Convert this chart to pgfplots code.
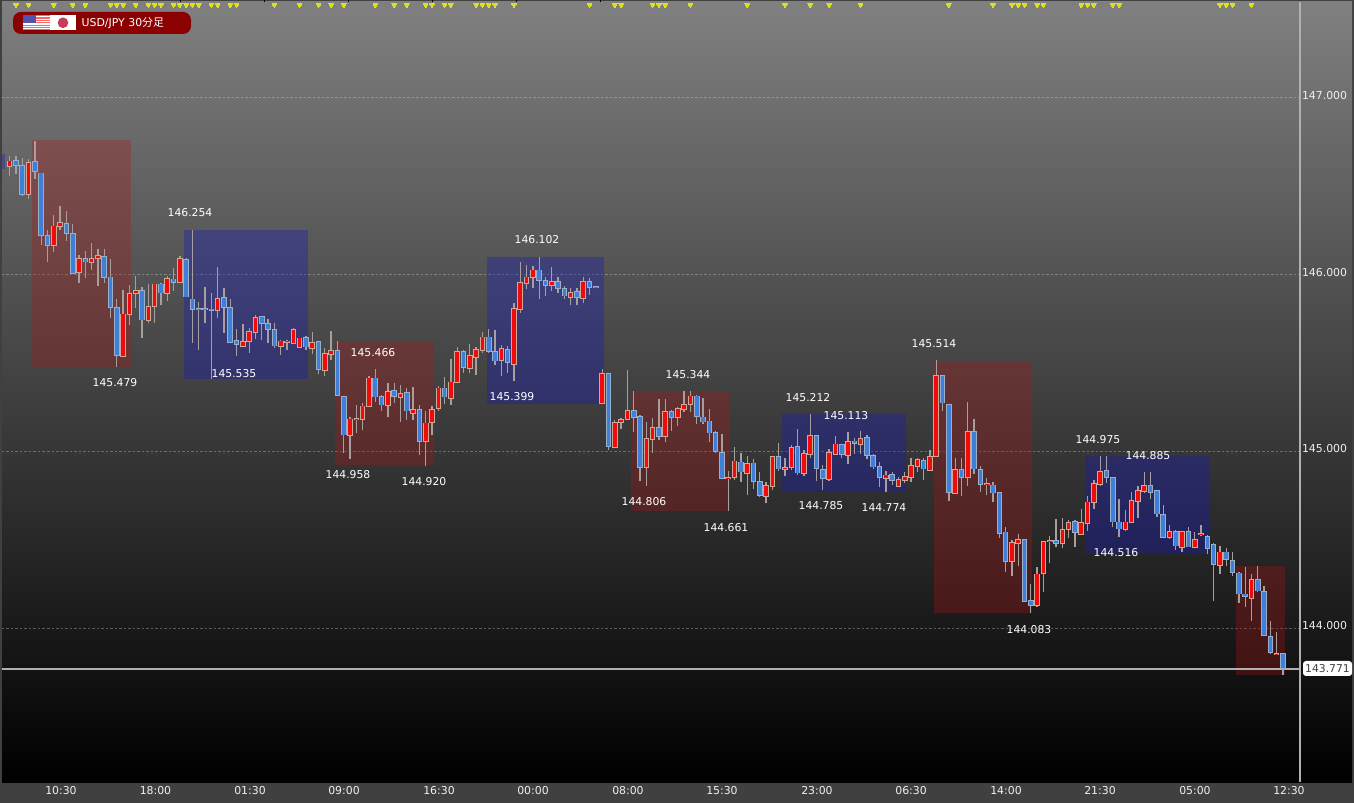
\documentclass[border=0pt]{standalone}
\usepackage{fontspec}
\setmainfont{DejaVu Sans}
\newfontfamily\cjk{Noto Sans CJK JP}
\usepackage{pgfplots}
\usepackage{pgfplotstable}
\pgfplotsset{compat=1.18}

\definecolor{framegray}{HTML}{404040}
\definecolor{candlered}{HTML}{F00A0A}
\definecolor{candleblue}{HTML}{3F7FD8}
\definecolor{rededge}{HTML}{D0A898}
\definecolor{blueedge}{HTML}{98B0CC}
\definecolor{wick}{HTML}{A89E9E}
\definecolor{zonered}{RGB}{180,20,20}
\definecolor{zoneblue}{RGB}{25,25,190}
\definecolor{marker}{HTML}{DCE020}
\definecolor{axisline}{HTML}{B0B0B0}
\definecolor{badge}{RGB}{139,0,0}
\definecolor{jpdisc}{RGB}{200,60,90}

% i open high low close
\pgfplotstableread{
i o h l c
0 146.616 146.669 146.561 146.642
1 146.644 146.669 146.569 146.621
2 146.614 146.659 146.446 146.457
3 146.459 146.657 146.426 146.631
4 146.638 146.759 146.542 146.585
5 146.574 146.574 146.167 146.222
6 146.218 146.254 146.073 146.167
7 146.167 146.335 146.127 146.274
8 146.274 146.386 146.250 146.293
9 146.288 146.359 146.193 146.233
10 146.229 146.288 146.007 146.007
11 146.014 146.112 145.950 146.091
12 146.091 146.133 145.980 146.073
13 146.069 146.178 146.027 146.090
14 146.093 146.148 145.937 146.105
15 146.099 146.148 145.952 145.986
16 145.984 146.090 145.754 145.818
17 145.814 145.861 145.479 145.545
18 145.537 145.916 145.533 145.776
19 145.776 145.944 145.716 145.890
20 145.895 145.995 145.811 145.907
21 145.907 145.929 145.639 145.746
22 145.746 145.948 145.729 145.818
23 145.820 145.948 145.726 145.945
24 145.945 145.952 145.829 145.899
25 145.895 145.990 145.852 145.978
26 145.974 146.040 145.905 145.959
27 145.959 146.103 145.952 146.088
28 146.082 146.097 145.876 145.876
29 145.861 146.254 145.616 145.805
30 145.805 145.848 145.575 145.803
31 145.805 145.933 145.729 145.803
32 145.803 145.895 145.408 145.801
33 145.801 146.046 145.754 145.865
34 145.867 145.922 145.669 145.818
35 145.814 145.861 145.612 145.620
36 145.624 145.692 145.541 145.605
37 145.597 145.722 145.593 145.620
38 145.624 145.698 145.556 145.677
39 145.677 145.773 145.635 145.754
40 145.760 145.767 145.631 145.724
41 145.720 145.748 145.616 145.690
42 145.688 145.729 145.584 145.599
43 145.599 145.628 145.543 145.622
44 145.620 145.628 145.575 145.622
45 145.611 145.698 145.607 145.688
46 145.593 145.643 145.588 145.639
47 145.641 145.654 145.575 145.593
48 145.586 145.673 145.552 145.616
49 145.618 145.618 145.439 145.467
50 145.461 145.584 145.428 145.552
51 145.552 145.684 145.518 145.569
52 145.569 145.626 145.311 145.320
53 145.309 145.316 144.990 145.094
54 145.094 145.197 144.956 145.182
55 145.182 145.260 145.103 145.184
56 145.182 145.276 145.122 145.254
57 145.254 145.424 145.250 145.414
58 145.414 145.467 145.282 145.309
59 145.309 145.320 145.229 145.265
60 145.265 145.386 145.193 145.337
61 145.344 145.386 145.276 145.312
62 145.307 145.376 145.169 145.326
63 145.333 145.358 145.178 145.231
64 145.218 145.367 145.178 145.235
65 145.235 145.263 144.978 145.058
66 145.058 145.226 144.920 145.158
67 145.165 145.254 145.094 145.235
68 145.244 145.371 145.226 145.356
69 145.356 145.420 145.267 145.309
70 145.301 145.522 145.263 145.390
71 145.390 145.593 145.386 145.563
72 145.563 145.574 145.442 145.478
73 145.473 145.606 145.442 145.539
74 145.535 145.593 145.433 145.574
75 145.574 145.678 145.556 145.646
76 145.646 145.695 145.556 145.569
77 145.563 145.688 145.486 145.514
78 145.516 145.603 145.424 145.582
79 145.574 145.597 145.446 145.503
80 145.497 145.838 145.401 145.805
81 145.805 146.074 145.782 145.954
82 145.955 146.052 145.918 145.984
83 145.986 146.050 145.923 146.025
84 146.025 146.102 145.865 145.967
85 145.963 145.989 145.882 145.942
86 145.944 146.042 145.906 145.959
87 145.961 145.986 145.895 145.923
88 145.918 145.937 145.865 145.882
89 145.876 145.923 145.829 145.899
90 145.901 145.923 145.827 145.871
91 145.867 145.986 145.842 145.961
92 145.961 145.980 145.886 145.931
93 145.931 145.933 145.927 145.929
94 145.271 145.467 145.269 145.439
95 145.439 145.439 145.009 145.031
96 145.026 145.178 145.018 145.163
97 145.165 145.188 145.127 145.178
98 145.182 145.458 145.178 145.231
99 145.231 145.339 145.110 145.193
100 145.195 145.206 144.833 144.910
101 144.910 145.169 144.806 145.069
102 145.069 145.187 144.989 145.135
103 145.135 145.295 145.065 145.086
104 145.086 145.295 145.055 145.225
105 145.225 145.234 145.116 145.195
106 145.193 145.253 145.144 145.242
107 145.242 145.344 145.225 145.265
108 145.267 145.344 145.223 145.312
109 145.312 145.319 145.155 145.201
110 145.193 145.304 145.155 145.169
111 145.170 145.242 145.055 145.106
112 145.106 145.114 144.989 145.001
113 144.993 145.099 144.842 144.848
114 144.848 144.891 144.661 144.850
115 144.854 145.027 144.838 144.944
116 144.938 144.993 144.829 144.886
117 144.880 144.974 144.754 144.931
118 144.933 144.959 144.789 144.831
119 144.827 144.886 144.744 144.754
120 144.749 144.829 144.706 144.803
121 144.805 144.974 144.782 144.967
122 144.967 145.046 144.891 144.903
123 144.903 144.961 144.861 144.905
124 144.910 145.036 144.895 145.019
125 145.027 145.129 144.865 144.880
126 144.880 145.008 144.861 144.986
127 144.987 145.212 144.961 145.087
128 145.087 145.091 144.835 144.905
129 144.897 144.923 144.782 144.848
130 144.842 145.016 144.835 144.993
131 144.987 145.087 144.982 145.040
132 145.038 145.042 144.961 144.986
133 144.980 145.112 144.927 145.055
134 145.056 145.076 144.986 145.046
135 145.040 145.113 144.984 145.069
136 145.076 145.093 144.955 144.980
137 144.974 144.986 144.899 144.914
138 144.914 144.940 144.801 144.855
139 144.850 144.891 144.772 144.865
140 144.869 144.886 144.810 144.838
141 144.805 144.857 144.797 144.837
142 144.837 144.884 144.823 144.855
143 144.857 144.961 144.825 144.920
144 144.920 144.961 144.886 144.950
145 144.948 144.961 144.838 144.903
146 144.895 145.008 144.891 144.967
147 144.974 145.517 144.970 145.427
148 145.426 145.426 145.228 145.275
149 145.264 145.264 144.721 144.770
150 144.762 144.964 144.759 144.896
151 144.896 144.964 144.749 144.855
152 144.855 145.279 144.806 145.111
153 145.111 145.183 144.872 144.902
154 144.896 144.919 144.770 144.813
155 144.813 144.849 144.753 144.815
156 144.808 144.828 144.712 144.766
157 144.766 144.766 144.508 144.538
158 144.542 144.570 144.319 144.380
159 144.380 144.498 144.297 144.481
160 144.480 144.530 144.351 144.498
161 144.498 144.506 144.150 144.153
162 144.153 144.249 144.083 144.129
163 144.129 144.344 144.121 144.304
164 144.310 144.489 144.206 144.487
165 144.490 144.523 144.366 144.492
166 144.495 144.617 144.457 144.480
167 144.480 144.625 144.451 144.557
168 144.559 144.612 144.508 144.595
169 144.600 144.612 144.457 144.542
170 144.532 144.672 144.529 144.595
171 144.593 144.747 144.551 144.712
172 144.712 144.838 144.672 144.815
173 144.813 144.974 144.804 144.885
174 144.891 144.974 144.819 144.853
175 144.851 144.851 144.574 144.602
176 144.599 144.731 144.514 144.563
177 144.561 144.666 144.550 144.599
178 144.599 144.772 144.593 144.719
179 144.719 144.804 144.623 144.778
180 144.778 144.885 144.763 144.806
181 144.806 144.885 144.731 144.770
182 144.778 144.778 144.631 144.648
183 144.642 144.695 144.514 144.516
184 144.518 144.583 144.504 144.546
185 144.546 144.555 144.442 144.467
186 144.461 144.551 144.433 144.546
187 144.546 144.570 144.457 144.461
188 144.457 144.546 144.455 144.499
189 144.532 144.583 144.521 144.534
190 144.517 144.529 144.419 144.451
191 144.470 144.480 144.152 144.361
192 144.357 144.465 144.306 144.429
193 144.429 144.451 144.353 144.389
194 144.380 144.433 144.295 144.316
195 144.310 144.319 144.140 144.195
196 144.191 144.348 144.121 144.180
197 144.172 144.306 144.042 144.272
198 144.272 144.352 144.203 144.212
199 144.206 144.238 143.955 143.959
200 143.952 144.042 143.854 143.863
201 143.854 143.978 143.848 143.856
202 143.856 143.856 143.735 143.772
}\candles

\newcommand{\lbl}[3]{\node[text=white,font=\fontsize{10.8}{12}\selectfont] at (#1,803-#2) {#3};}

\begin{document}
\begin{tikzpicture}[x=1pt,y=1pt]
\path[use as bounding box,fill=framegray] (0,0) rectangle (1354,803);
\shade[top color=black!50,bottom color=black!100] (2,21) rectangle (1352,801);
\begin{axis}[
  at={(2pt,21pt)},anchor=south west,
  scale only axis,width=1298pt,height=780pt,
  xmin=-1.217,xmax=204.70,
  ymin=143.129,ymax=147.543,
  axis line style={draw=none},
  major tick length=0pt,
  xtick={8.14,23.13,38.13,53.04,68.11,83.02,98.09,113.0,128.07,143.0,158.06,172.97,188.04,202.95},
  xticklabels={10:30,18:00,01:30,09:00,16:30,00:00,08:00,15:30,23:00,06:30,14:00,21:30,05:00,12:30},
  ytick={144,145,146,147},
  yticklabel pos=right,
  ymajorgrids,
  major grid style={white,opacity=0.28,line width=1pt,dash pattern=on 2.5pt off 2pt},
  tick label style={text=black!6,font=\fontsize{10.9}{12}\selectfont},
  xticklabel style={yshift=-0.5pt},
  yticklabel style={anchor=west,xshift=-1.5pt,yshift=2.5pt},
  /pgf/number format/.cd,fixed,fixed zerofill,precision=3,assume math mode=true,
]
% zones
\addplot[draw=none,fill=zoneblue,fill opacity=0.35] coordinates {(-1.217,146.68)(-0.74,146.68)(-0.74,146.60)(-1.217,146.60)} --cycle;
\addplot[draw=none,fill=zonered,fill opacity=0.30] coordinates {(3.54,145.479)(19.25,145.479)(19.25,146.76)(3.54,146.76)} --cycle;
\addplot[draw=none,fill=zoneblue,fill opacity=0.35] coordinates {(27.65,145.412)(47.33,145.412)(47.33,146.254)(27.65,146.254)} --cycle;
\addplot[draw=none,fill=zonered,fill opacity=0.30] coordinates {(51.61,144.925)(67.32,144.925)(67.32,145.626)(51.61,145.626)} --cycle;
\addplot[draw=none,fill=zoneblue,fill opacity=0.35] coordinates {(75.72,145.268)(94.28,145.268)(94.28,146.102)(75.72,146.102)} --cycle;
\addplot[draw=none,fill=zonered,fill opacity=0.30] coordinates {(98.56,144.661)(114.27,144.661)(114.27,145.344)(98.56,145.344)} --cycle;
\addplot[draw=none,fill=zoneblue,fill opacity=0.35] coordinates {(122.52,144.77)(142.19,144.77)(142.19,145.212)(122.52,145.212)} --cycle;
\addplot[draw=none,fill=zonered,fill opacity=0.30] coordinates {(146.63,144.083)(162.18,144.083)(162.18,145.514)(146.63,145.514)} --cycle;
\addplot[draw=none,fill=zoneblue,fill opacity=0.35] coordinates {(170.6,144.42)(190.26,144.42)(190.26,144.975)(170.6,144.975)} --cycle;
\addplot[draw=none,fill=zonered,fill opacity=0.30] coordinates {(194.54,143.735)(202.31,143.735)(202.31,144.352)(194.54,144.352)} --cycle;
% last price line
\addplot[axisline,line width=2pt] coordinates {(-1.217,143.771)(204.70,143.771)};
% wicks
\addplot[draw=none,no marks,error bars/.cd,y dir=both,y explicit,error mark=none,
  error bar style={draw=wick,line width=1.3pt,solid}]
  table[x=i,y=o,y error plus expr=\thisrow{h}-\thisrow{o},y error minus expr=\thisrow{o}-\thisrow{l}] {\candles};
% body edges
\addplot[draw=none,no marks,error bars/.cd,y dir=both,y explicit,error mark=none,
  error bar style={draw=rededge,line width=5.6pt,solid}]
  table[x=i,y=o,
    y error plus expr={(\thisrow{c}>=\thisrow{o})*(\thisrow{c}-\thisrow{o}+0.004)},
    y error minus expr={(\thisrow{c}>=\thisrow{o})*0.004}] {\candles};
\addplot[draw=none,no marks,error bars/.cd,y dir=both,y explicit,error mark=none,
  error bar style={draw=blueedge,line width=5.6pt,solid}]
  table[x=i,y=o,
    y error plus expr={(\thisrow{c}<\thisrow{o})*0.004},
    y error minus expr={(\thisrow{c}<\thisrow{o})*(\thisrow{o}-\thisrow{c}+0.004)}] {\candles};
% body fill
\addplot[draw=none,no marks,error bars/.cd,y dir=both,y explicit,error mark=none,
  error bar style={draw=candlered,line width=3.6pt,solid}]
  table[x=i,y=o,
    y error plus expr={(\thisrow{c}>=\thisrow{o})*(\thisrow{c}-\thisrow{o})},
    y error minus expr=0] {\candles};
\addplot[draw=none,no marks,error bars/.cd,y dir=both,y explicit,error mark=none,
  error bar style={draw=candleblue,line width=3.6pt,solid}]
  table[x=i,y=o,
    y error plus expr=0,
    y error minus expr={(\thisrow{c}<\thisrow{o})*(\thisrow{o}-\thisrow{c})}] {\candles};
% yellow markers along the top
\addplot[only marks,mark=triangle*,mark size=2.6pt,mark options={rotate=180,fill=marker,draw=marker,line width=0pt}]
  coordinates {(1,147.526)(3,147.526)(7,147.526)(10,147.526)(12,147.526)(16,147.526)(17,147.526)(18,147.526)(20,147.526)(22,147.526)(23,147.526)(24,147.526)(26,147.526)(27,147.526)(28,147.526)(29,147.526)(30,147.526)(32,147.526)(33,147.526)(35,147.526)(36,147.526)(42,147.526)(46,147.526)(49,147.526)(51,147.526)(53,147.526)(58,147.526)(61,147.526)(63,147.526)(66,147.526)(67,147.526)(69,147.526)(70,147.526)(74,147.526)(75,147.526)(76,147.526)(77,147.526)(80,147.526)(92,147.526)(96,147.526)(97,147.526)(102,147.526)(103,147.526)(104,147.526)(108,147.526)(117,147.526)(123,147.526)(127,147.526)(130,147.526)(135,147.526)(149,147.526)(156,147.526)(159,147.526)(160,147.526)(161,147.526)(163,147.526)(164,147.526)(170,147.526)(171,147.526)(172,147.526)(175,147.526)(176,147.526)(192,147.526)(193,147.526)(194,147.526)(197,147.526)};
\end{axis}
% right scale line and top notches
\draw[axisline,line width=2pt] (1300,21) -- (1300,801);
\foreach \nx in {180,264.5,348.7,432.8,516.7,600.5} \draw[black,line width=0.8pt] (\nx,801) -- (\nx,803);
% current price tag
\node[fill=white,rounded corners=3pt,inner sep=0pt,minimum width=49pt,minimum height=15pt,text=black!75,
  font=\fontsize{10.8}{12}\selectfont] at (1327.5,134.5) {143.771};
% extreme labels
\lbl{190}{213}{146.254}
\lbl{115}{383}{145.479}
\lbl{234}{374}{145.535}
\lbl{373}{353}{145.466}
\lbl{348}{475}{144.958}
\lbl{424}{482}{144.920}
\lbl{537}{240}{146.102}
\lbl{512}{397}{145.399}
\lbl{688}{375}{145.344}
\lbl{644}{502}{144.806}
\lbl{726}{528}{144.661}
\lbl{808}{398}{145.212}
\lbl{846}{416}{145.113}
\lbl{821}{506}{144.785}
\lbl{884}{508}{144.774}
\lbl{934}{344}{145.514}
\lbl{1098}{440}{144.975}
\lbl{1148}{456}{144.885}
\lbl{1116}{553}{144.516}
\lbl{1029}{630}{144.083}
% title badge with flags
\fill[badge,rounded corners=8pt] (13,769) rectangle (191,791);
\fill[white] (23,772.5) rectangle (50,788);
\foreach \s in {0,2,4,6,8,10,12} \fill[red!60!white] (23,772.5+1.19*\s) rectangle (50,772.5+1.19*\s+1.19);
\fill[blue!35!gray] (23,780) rectangle (36,788);
\fill[white] (50,772.5) rectangle (76,788);
\fill[jpdisc] (63,780.2) circle (5.3pt);
\node[anchor=west,text=white,inner sep=0pt,font=\fontsize{10.9}{12}\selectfont] at (81.5,780) {USD/JPY 30{\cjk 分足}};
\end{tikzpicture}
\end{document}
